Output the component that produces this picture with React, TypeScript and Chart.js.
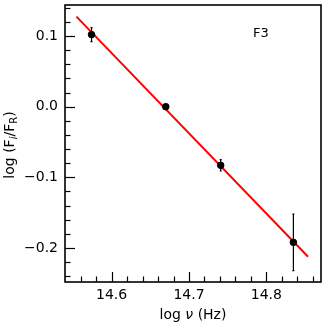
import React, { useEffect, useRef } from "react";
import { Chart, registerables } from "chart.js";

Chart.register(...registerables);

// Data
const logNu = [14.574, 14.670, 14.741, 14.835];
const logFlux = [0.102, 0.0, -0.083, -0.192];
const fluxErr = [0.01, 0.002, 0.008, 0.04];

// fitted line end points
const fitX = [14.5545, 14.854];
const fitY = [0.1274, -0.2123];

const xMajorTicks = [14.6, 14.7, 14.8];
const xMinorTicks = [14.56, 14.58, 14.62, 14.64, 14.66, 14.68, 14.72, 14.74, 14.76, 14.78, 14.82, 14.84, 14.86];
const yMajorTicks = [-0.2, -0.1, 0.0, 0.1];
const yMinorTicks = [0.14, 0.12, 0.08, 0.06, 0.04, 0.02, -0.02, -0.04, -0.06, -0.08, -0.12, -0.14, -0.16, -0.18, -0.22, -0.24];

const xRange = [14.5397, 14.8707];
const yRange = [-0.2481, 0.1439];

const panelLabel = "F3";
const FONT = "DejaVu Sans";

const fmt = (v: number) => v.toFixed(1).replace("-", "\u2212");

const customPlugin = {
  id: "custom",
  afterDatasetsDraw(chart: any) {
    const ctx = chart.ctx;
    const xs = chart.scales.x;
    const ys = chart.scales.y;
    ctx.save();
    ctx.strokeStyle = "#000";
    ctx.lineWidth = 1.2;
    for (let i = 0; i < logNu.length; i++) {
      const px = xs.getPixelForValue(logNu[i]);
      const top = ys.getPixelForValue(logFlux[i] + fluxErr[i]);
      const bot = ys.getPixelForValue(logFlux[i] - fluxErr[i]);
      ctx.beginPath();
      ctx.moveTo(px, top);
      ctx.lineTo(px, bot);
      ctx.stroke();
      ctx.beginPath();
      ctx.moveTo(px - 1, top);
      ctx.lineTo(px + 1, top);
      ctx.moveTo(px - 1, bot);
      ctx.lineTo(px + 1, bot);
      ctx.stroke();
    }
    ctx.restore();
  },
  afterDraw(chart: any) {
    const ctx = chart.ctx;
    const a = chart.chartArea;
    const xs = chart.scales.x;
    const ys = chart.scales.y;
    ctx.save();
    ctx.strokeStyle = "#000";
    // ticks
    ctx.lineWidth = 1.2;
    const drawX = (vals: number[], len: number) => {
      for (const v of vals) {
        const p = Math.round(xs.getPixelForValue(v)) + 0.5;
        ctx.beginPath();
        ctx.moveTo(p, a.bottom);
        ctx.lineTo(p, a.bottom - len);
        ctx.stroke();
      }
    };
    const drawY = (vals: number[], len: number) => {
      for (const v of vals) {
        const p = Math.round(ys.getPixelForValue(v)) + 0.5;
        ctx.beginPath();
        ctx.moveTo(a.left, p);
        ctx.lineTo(a.left + len, p);
        ctx.stroke();
      }
    };
    drawX(xMajorTicks, 10);
    drawX(xMinorTicks, 5.5);
    drawY(yMajorTicks, 10);
    drawY(yMinorTicks, 5.5);
    // frame
    ctx.lineWidth = 1.6;
    ctx.strokeRect(a.left, a.top, a.right - a.left, a.bottom - a.top);

    ctx.fillStyle = "#000";
    // panel label
    ctx.font = `13px '${FONT}'`;
    ctx.textAlign = "left";
    ctx.textBaseline = "alphabetic";
    ctx.fillText(panelLabel, 253, 37);

    // x title: log ν (Hz)
    const p1 = "log ";
    const p2 = "\u03bd";
    const p3 = " (Hz)";
    ctx.font = `14px '${FONT}'`;
    const w1 = ctx.measureText(p1).width;
    const w3 = ctx.measureText(p3).width;
    ctx.font = `italic 14px '${FONT}'`;
    const w2 = ctx.measureText(p2).width;
    const total = w1 + w2 + w3;
    const x0 = (a.left + a.right) / 2 - total / 2;
    const by = 319;
    ctx.font = `14px '${FONT}'`;
    ctx.fillText(p1, x0, by);
    ctx.font = `italic 14px '${FONT}'`;
    ctx.fillText(p2, x0 + w1, by);
    ctx.font = `14px '${FONT}'`;
    ctx.fillText(p3, x0 + w1 + w2, by);

    // y title: log (F_i/F_R), rotated
    const parts: [string, number, number, boolean][] = [
      ["log (F", 14, 0, false],
      ["i", 10, 3, true],
      ["/F", 14, 0, false],
      ["R", 10, 3, false],
      [")", 14, 0, false],
    ];
    let tw = 0;
    const widths: number[] = [];
    for (const [t, s, , it] of parts) {
      ctx.font = `${it ? "italic " : ""}${s}px '${FONT}'`;
      const w = ctx.measureText(t).width;
      widths.push(w);
      tw += w;
    }
    ctx.translate(13.5, (a.top + a.bottom) / 2 + 1.5);
    ctx.rotate(-Math.PI / 2);
    let cx = -tw / 2;
    parts.forEach(([t, s, dy, it], i) => {
      ctx.font = `${it ? "italic " : ""}${s}px '${FONT}'`;
      ctx.fillText(t, cx, dy);
      cx += widths[i];
    });
    ctx.restore();
  },
};

export default function App() {
  const ref = useRef<HTMLCanvasElement | null>(null);
  useEffect(() => {
    if (!ref.current) return;
    const chart = new Chart(ref.current, {
      type: "scatter",
      data: {
        datasets: [
          {
            type: "scatter",
            data: logNu.map((x, i) => ({ x, y: logFlux[i] })),
            backgroundColor: "#000",
            borderColor: "#000",
            pointRadius: 3.3,
            pointHoverRadius: 3.3,
            order: 0,
          },
          {
            type: "line",
            data: fitX.map((x, i) => ({ x, y: fitY[i] })),
            borderColor: "#ff0000",
            borderWidth: 2,
            pointRadius: 0,
            fill: false,
            order: 1,
          } as any,
        ],
      },
      options: {
        animation: false,
        responsive: false,
        devicePixelRatio: 1,
        layout: { padding: { top: 5, right: 6, left: 0, bottom: 0 } },
        plugins: { legend: { display: false }, tooltip: { enabled: false } },
        scales: {
          x: {
            type: "linear",
            min: xRange[0],
            max: xRange[1],
            grid: { display: false, drawTicks: false },
            border: { display: false },
            ticks: {
              padding: 5,
              color: "#000",
              font: { family: FONT, size: 14 },
              callback: (v: any) => fmt(Number(v)),
            },
            afterBuildTicks: (s: any) => {
              s.ticks = xMajorTicks.map((v) => ({ value: v }));
            },
            afterFit: (s: any) => {
              s.height = 45;
              s.paddingLeft = 0;
              s.paddingRight = 0;
            },
          },
          y: {
            type: "linear",
            min: yRange[0],
            max: yRange[1],
            grid: { display: false, drawTicks: false },
            border: { display: false },
            ticks: {
              padding: 7,
              color: "#000",
              font: { family: FONT, size: 14 },
              callback: (v: any) => fmt(Number(v)),
            },
            afterBuildTicks: (s: any) => {
              s.ticks = yMajorTicks.map((v) => ({ value: v }));
            },
            afterFit: (s: any) => {
              s.width = 65;
              s.paddingTop = 0;
              s.paddingBottom = 0;
            },
          },
        },
      },
      plugins: [customPlugin],
    } as any);
    return () => chart.destroy();
  }, []);
  return (
    <div style={{ position: "fixed", left: 0, top: 0, width: 327, height: 327, background: "#fff" }}>
      <canvas ref={ref} width={327} height={327} />
    </div>
  );
}
